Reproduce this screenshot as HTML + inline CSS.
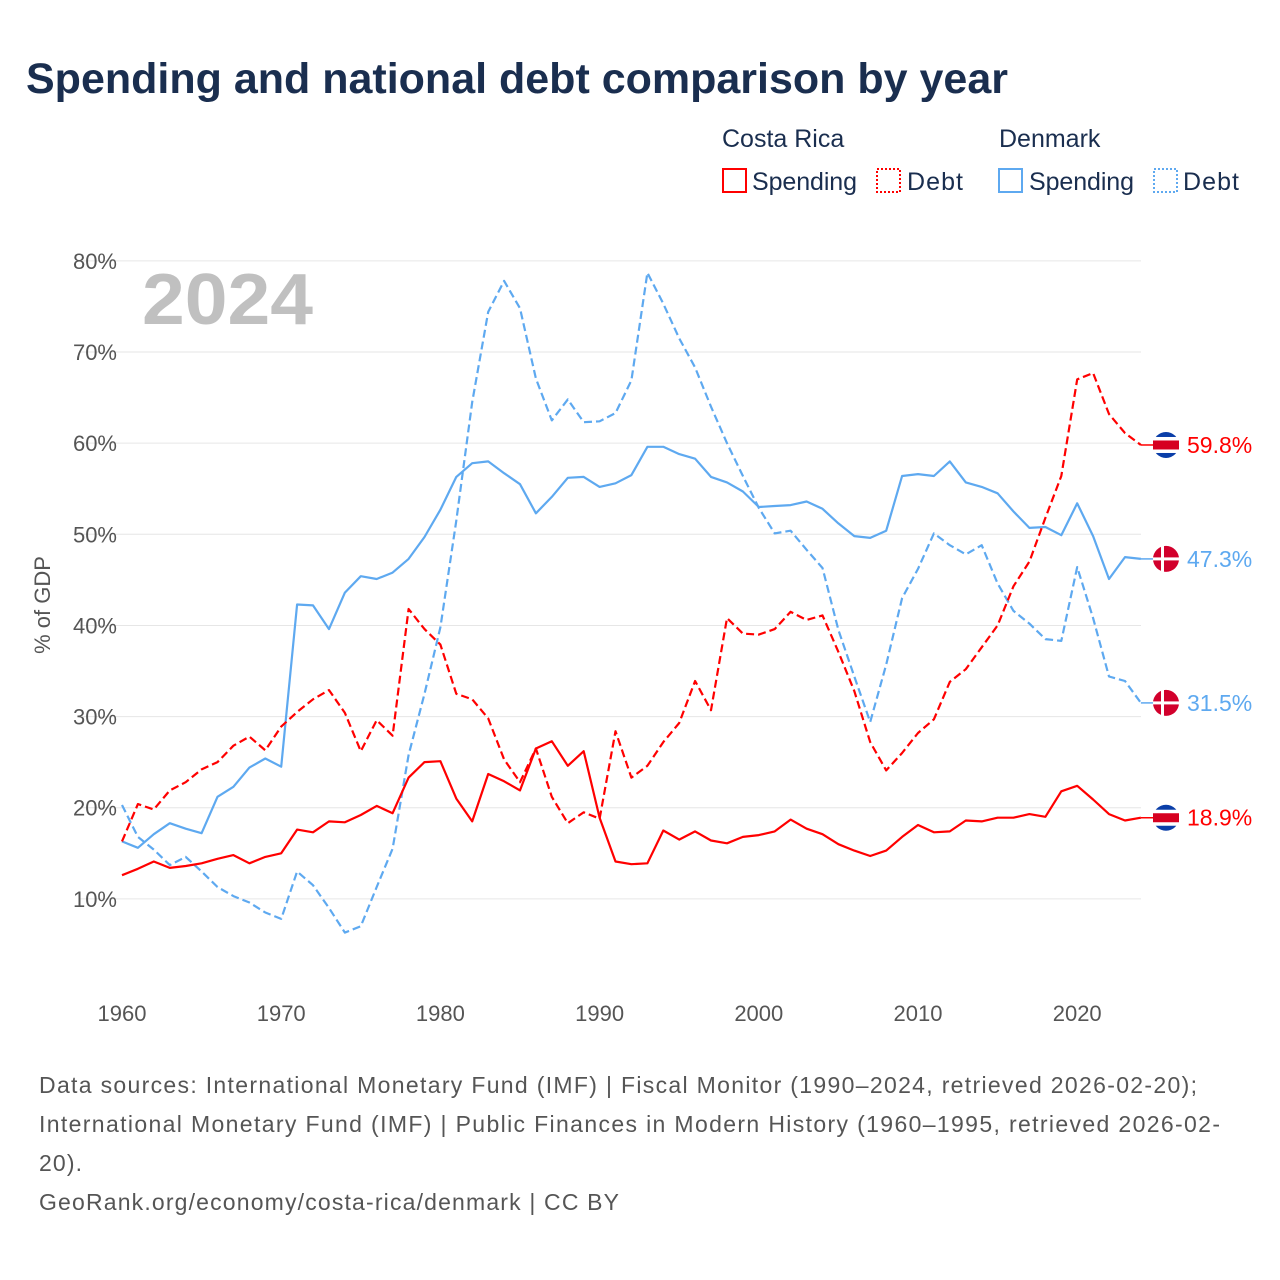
<!DOCTYPE html>
<html><head><meta charset="utf-8"><style>
body{margin:0;background:#fff;font-family:"Liberation Sans",sans-serif}
#c{position:relative;width:1280px;height:1280px;overflow:hidden}
</style></head><body>
<div id="c">
<svg id="s" width="1280" height="1280" xmlns="http://www.w3.org/2000/svg">
<text x="26" y="93" font-size="43" font-weight="bold" fill="#1a2e4f" textLength="982" lengthAdjust="spacingAndGlyphs">Spending and national debt comparison by year</text>
<g font-size="25" fill="#1a2e4f">
<text x="722" y="147">Costa Rica</text>
<text x="999" y="147">Denmark</text>
<g><rect x="723" y="169" width="23" height="23" fill="none" stroke="#ff0000" stroke-width="2"/><text x="752" y="190" textLength="105">Spending</text></g>
<g><rect x="877" y="169" width="23" height="23" fill="none" stroke="#ff0000" stroke-width="2" stroke-dasharray="2,2"/><text x="907" y="190" textLength="56">Debt</text></g>
<g><rect x="999" y="169" width="23" height="23" fill="none" stroke="#5ea9f0" stroke-width="2"/><text x="1029" y="190" textLength="105">Spending</text></g>
<g><rect x="1154" y="169" width="23" height="23" fill="none" stroke="#5ea9f0" stroke-width="2" stroke-dasharray="2,2"/><text x="1183" y="190" textLength="56">Debt</text></g>
</g>
<g id="grid"></g>
<text x="142" y="324" font-size="72" font-weight="bold" fill="#c0c0c0" textLength="171" lengthAdjust="spacingAndGlyphs">2024</text>
<text transform="translate(50,605) rotate(-90)" text-anchor="middle" font-size="22" fill="#555">% of GDP</text>
<g id="series"></g>
<g id="ends"></g>
<g font-size="23" fill="#555" lengthAdjust="spacingAndGlyphs">
<text x="39" y="1093" textLength="1158">Data sources: International Monetary Fund (IMF) | Fiscal Monitor (1990–2024, retrieved 2026-02-20);</text>
<text x="39" y="1132" textLength="1181">International Monetary Fund (IMF) | Public Finances in Modern History (1960–1995, retrieved 2026-02-</text>
<text x="39" y="1171" textLength="43">20).</text>
<text x="39" y="1210" textLength="580">GeoRank.org/economy/costa-rica/denmark | CC BY</text>
</g>
</svg>
</div>
<script>
const startYear = 1960;
const crSpending = [12.6,13.3,14.1,13.4,13.6,13.9,14.4,14.8,13.9,14.6,15.0,17.6,17.3,18.5,18.4,19.2,20.2,19.4,23.3,25.0,25.1,21.0,18.5,23.7,22.9,21.9,26.5,27.3,24.6,26.2,18.9,14.1,13.8,13.9,17.5,16.5,17.4,16.4,16.1,16.8,17.0,17.4,18.7,17.7,17.1,16.0,15.3,14.7,15.3,16.8,18.1,17.3,17.4,18.6,18.5,18.9,18.9,19.3,19.0,21.8,22.4,20.9,19.3,18.6,18.9];
const crDebt = [16.3,20.4,19.8,21.9,22.8,24.2,25.0,26.8,27.8,26.3,28.9,30.5,31.9,32.9,30.4,26.2,29.6,27.9,41.8,39.6,37.9,32.5,31.9,29.8,25.3,22.8,26.5,21.2,18.3,19.5,18.8,28.4,23.3,24.6,27.2,29.3,33.9,30.7,40.8,39.1,39.0,39.6,41.5,40.6,41.1,37.1,32.8,27.2,24.1,26.0,28.2,29.7,33.8,35.2,37.6,40.0,44.3,47.0,51.8,56.4,67.0,67.7,63.2,61.1,59.8];
const dkSpending = [16.3,15.6,17.1,18.3,17.7,17.2,21.2,22.3,24.4,25.4,24.5,42.3,42.2,39.6,43.6,45.4,45.1,45.8,47.3,49.7,52.7,56.3,57.8,58.0,56.7,55.5,52.3,54.1,56.2,56.3,55.2,55.6,56.5,59.6,59.6,58.8,58.3,56.3,55.7,54.7,53.0,53.1,53.2,53.6,52.8,51.2,49.8,49.6,50.4,56.4,56.6,56.4,58.0,55.7,55.2,54.5,52.5,50.7,50.8,49.9,53.4,49.8,45.1,47.5,47.3];
const dkDebt = [20.3,16.8,15.4,13.7,14.6,13.0,11.3,10.3,9.6,8.5,7.8,13.0,11.5,9.0,6.3,7.0,11.3,15.5,25.8,32.5,39.8,51.5,64.5,74.4,77.8,74.8,67.1,62.5,64.8,62.3,62.4,63.3,66.9,78.7,75.3,71.5,68.3,64.0,60.0,56.4,52.9,50.1,50.4,48.3,46.3,39.5,34.4,29.4,35.7,43.0,46.2,50.1,48.8,47.8,48.8,44.6,41.6,40.2,38.5,38.3,46.4,40.8,34.4,33.9,31.5];
const yTicks = [10,20,30,40,50,60,70,80];
const xTicks = [1960,1970,1980,1990,2000,2010,2020];

const NS="http://www.w3.org/2000/svg";
const X = yr => 122 + (yr-1960)*15.92;
const Y = v => 990 - v*9.114;
function mk(tag, attrs, parent){const e=document.createElementNS(NS,tag);for(const k in attrs)e.setAttribute(k,attrs[k]);parent.appendChild(e);return e;}
const grid=document.getElementById('grid');
yTicks.forEach(t=>{
  const l=mk('line',{x1:80,x2:1141,y1:Y(t),y2:Y(t),stroke:'#e6e6e6','stroke-width':1},grid);
  
  
  const tx=mk('text',{x:117,y:Y(t)+8,'text-anchor':'end','font-size':22,fill:'#555'},grid);
  tx.textContent=t+'%';
  
  
});
xTicks.forEach(t=>{
  const tx=mk('text',{x:X(t),y:1021,'text-anchor':'middle','font-size':22,fill:'#555'},grid);
  tx.textContent=t;
  
  
});
const ser=document.getElementById('series');
function line(arr,color,dash,name){
  const d=arr.map((v,i)=>(i?'L':'M')+X(startYear+i).toFixed(1)+','+Y(v).toFixed(1)).join('');
  const p=mk('path',{d:d,fill:'none',stroke:color,'stroke-width':2.2,'stroke-linejoin':'round'},ser);
  if(dash)p.setAttribute('stroke-dasharray','8,4');
  
  
}
line(dkDebt,'#5ea9f0',true,'denmark-debt-line');
line(dkSpending,'#5ea9f0',false,'denmark-spending-line');
line(crDebt,'#ff0000',true,'costa-rica-debt-line');
line(crSpending,'#ff0000',false,'costa-rica-spending-line');
const ends=document.getElementById('ends');
function endLabel(arr,color,flag,name){
  const v=arr[arr.length-1], y=Y(v), x0=X(startYear+arr.length-1);
  mk('line',{x1:x0,x2:1155,y1:y,y2:y,stroke:color,'stroke-width':1.5},ends);
  const g=mk('g',{},ends);
  
  
  const cx=1166, r=13;
  if(flag==='cr'){
    mk('circle',{cx:cx,cy:y,r:r,fill:'#0a3ea8'},g);
    mk('rect',{x:cx-r,y:y-8,width:2*r,height:16,fill:'#fff'},g);
    mk('rect',{x:cx-r,y:y-4.5,width:2*r,height:9,fill:'#d60020'},g);
  } else {
    mk('circle',{cx:cx,cy:y,r:r,fill:'#d2002c'},g);
    mk('rect',{x:cx-5,y:y-r,width:3,height:2*r,fill:'#fff'},g);
    mk('rect',{x:cx-r,y:y-1.5,width:2*r,height:3,fill:'#fff'},g);
  }
  const t=mk('text',{x:1187,y:y+8,'font-size':23,fill:color},ends);
  t.textContent=v.toFixed(1)+'%';
  
  
}
endLabel(crDebt,'#ff0000','cr','costa-rica-debt');
endLabel(dkSpending,'#5ea9f0','dk','denmark-spending');
endLabel(dkDebt,'#5ea9f0','dk','denmark-debt');
endLabel(crSpending,'#ff0000','cr','costa-rica-spending');
</script>
</body></html>
